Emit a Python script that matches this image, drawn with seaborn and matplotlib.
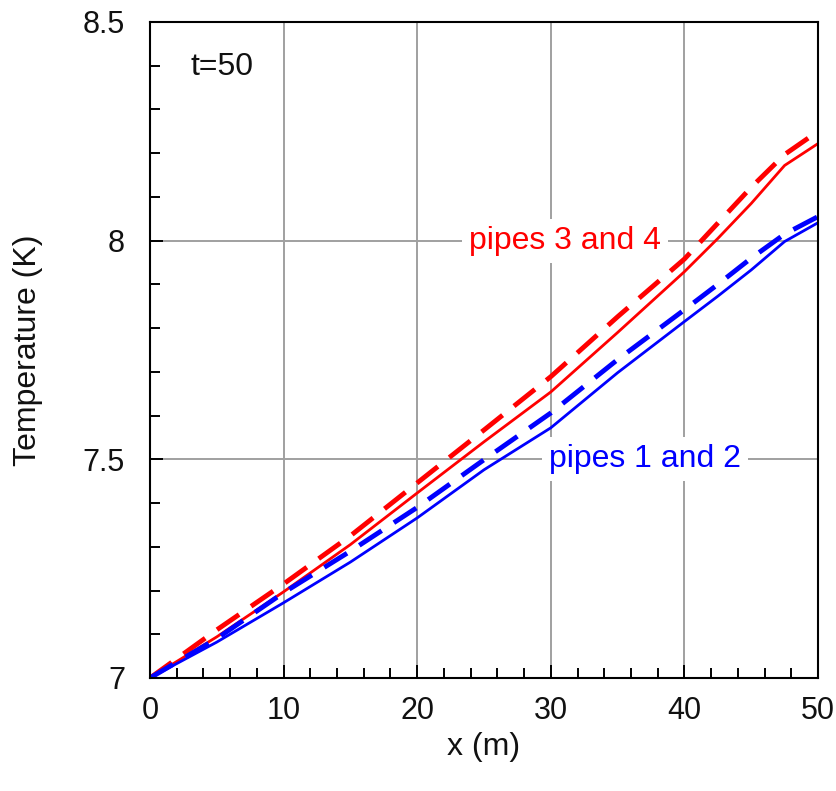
import numpy as np
import pandas as pd
import matplotlib
matplotlib.use("Agg")
import matplotlib.pyplot as plt
import seaborn as sns
from matplotlib.ticker import MultipleLocator, FuncFormatter

# positions along the pipe (m)
x_m = [0, 5, 10, 15, 20, 25, 30, 35, 40, 42.5, 45, 47.5, 50]

# temperature profiles at t=50
red_solid = [7.0, 7.094, 7.197, 7.305, 7.423, 7.540, 7.654, 7.790, 7.929, 8.005, 8.085, 8.172, 8.222]
red_dashed = [7.0, 7.110, 7.215, 7.325, 7.446, 7.567, 7.689, 7.826, 7.958, 8.040, 8.122, 8.197, 8.250]
blue_solid = [7.0, 7.082, 7.172, 7.265, 7.366, 7.476, 7.572, 7.698, 7.815, 7.873, 7.933, 7.998, 8.041]
blue_dashed = [7.0, 7.090, 7.195, 7.290, 7.390, 7.499, 7.606, 7.728, 7.842, 7.900, 7.960, 8.015, 8.055]

sns.set_theme(style="white")
plt.rcParams['font.family'] = ['Liberation Sans', 'DejaVu Sans']

fig = plt.figure(figsize=(8.36, 7.91), dpi=100)
ax = fig.add_axes([0.1794, 0.1429, 0.7991, 0.8293])

dash = (0, (5.5, 3.0))
curves = [
    (red_dashed, "#ff0000", 3.5, dash),
    (red_solid, "#ff0000", 2.0, "-"),
    (blue_dashed, "#0000ff", 3.5, dash),
    (blue_solid, "#0000ff", 2.0, "-"),
]
for vals, col, lw, ls in curves:
    df = pd.DataFrame({"x": x_m, "T": vals})
    sns.lineplot(data=df, x="x", y="T", ax=ax, color=col, linewidth=lw, linestyle=ls)

ax.set_xlim(0, 50)
ax.set_ylim(7, 8.5)
ax.xaxis.set_major_locator(MultipleLocator(10))
ax.xaxis.set_minor_locator(MultipleLocator(2))
ax.yaxis.set_major_locator(MultipleLocator(0.5))
ax.yaxis.set_minor_locator(MultipleLocator(0.1))
ax.yaxis.set_major_formatter(FuncFormatter(lambda v, p: f"{v:g}"))
ax.grid(True, which="major", color="#a0a0a0", linewidth=1.4)
ax.tick_params(which="both", direction="in", top=False, right=False, bottom=True, left=True,
               labelsize=22, colors="black", labelcolor="#111111")
ax.tick_params(axis="x", which="both", pad=13)
ax.tick_params(axis="y", which="both", pad=18)
ax.tick_params(which="major", length=9.5, width=1.4)
ax.tick_params(which="minor", length=7, width=1.4)
for s in ax.spines.values():
    s.set_color("black")
    s.set_linewidth(1.5)

ax.set_xlabel("x (m)", fontsize=23, color="#111111")
ax.set_ylabel("Temperature (K)", fontsize=23, color="#111111")
ax.xaxis.set_label_coords(0.5, -0.083)
ax.yaxis.set_label_coords(-0.160, 0.5)

ax.text(3.0, 8.397, "t=50", fontsize=23, color="#111111", va="center")
ax.text(31.06, 8.0, "pipes 3 and 4", fontsize=23, color="#ff0000", ha="center", va="center",
        bbox=dict(facecolor="white", edgecolor="none", pad=5))
ax.text(37.05, 7.5, "pipes 1 and 2", fontsize=23, color="#0000ff", ha="center", va="center",
        bbox=dict(facecolor="white", edgecolor="none", pad=5))

fig.savefig("out.png", dpi=100)
